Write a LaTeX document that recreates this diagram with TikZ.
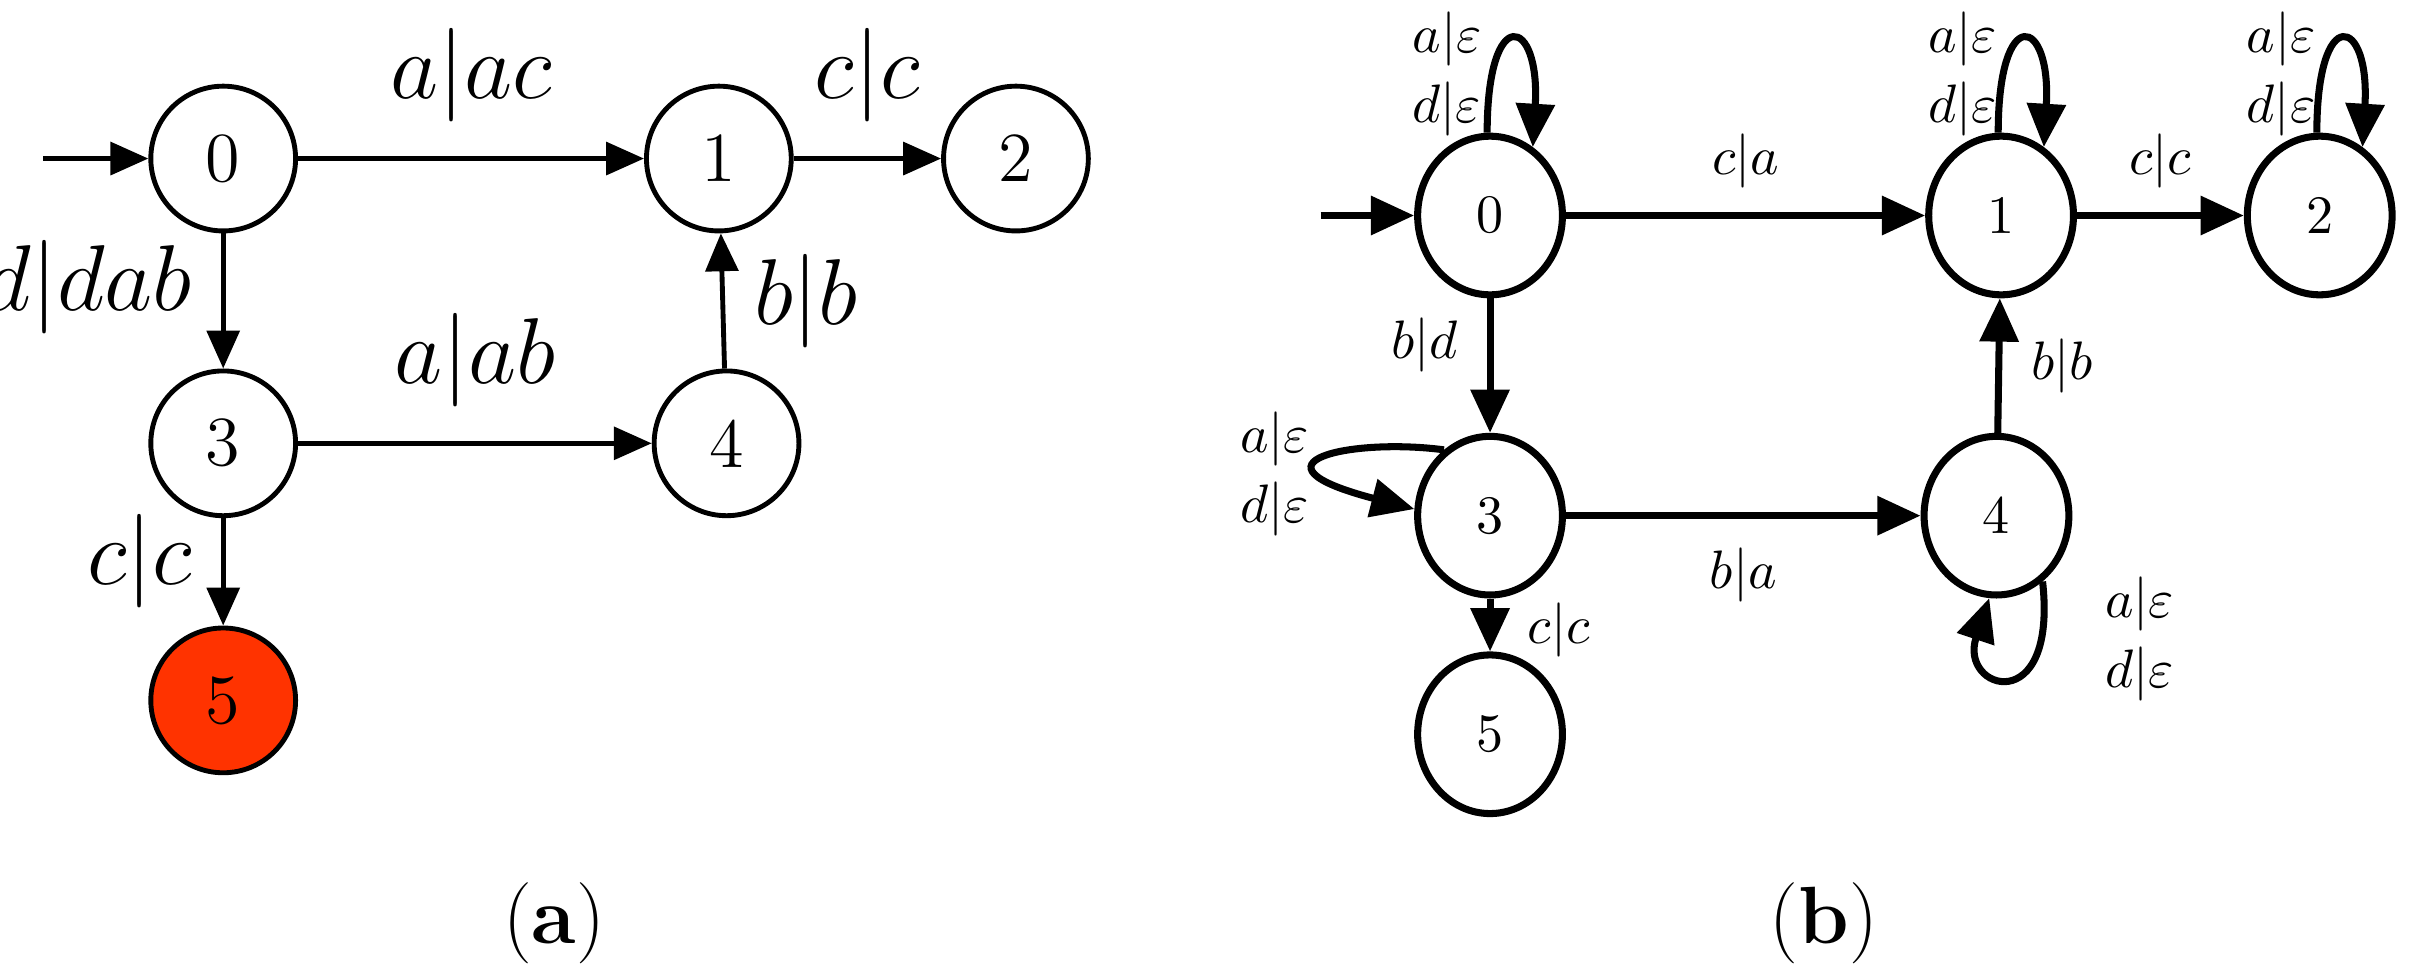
\documentclass[tikz,border=0pt]{standalone}
\usetikzlibrary{arrows.meta,shapes.geometric}
\begin{document}
\begin{tikzpicture}[x=1cm,y=-1cm,
  sa/.style={circle,draw,line width=0.9pt,minimum size=0.94cm,inner sep=0pt,font=\fontsize{13}{15}\selectfont},
  sb/.style={ellipse,draw,line width=1.3pt,minimum width=0.94cm,minimum height=1.03cm,inner sep=0pt,font=\fontsize{10}{12}\selectfont},
  ea/.style={line width=0.9pt,-{Triangle[length=7pt,width=6pt]}},
  eb/.style={line width=1.3pt,-{Triangle[length=8pt,width=7pt]}},
  la/.style={font=\fontsize{16}{18}\selectfont},
  lb/.style={font=\fontsize{10}{12}\selectfont},
  lbl/.style={lb,align=left,inner sep=0pt}]
\useasboundingbox (0,0) rectangle (15.68,6.32);
% (a)
\begin{scope}[x=0.01cm,y=-0.01cm]
\node[sa] (a0) at (145,103) {0};
\node[sa] (a1) at (467,103) {1};
\node[sa] (a2) at (660,103) {2};
\node[sa] (a3) at (145,288) {3};
\node[sa] (a4) at (472,288) {4};
\node[sa,fill={rgb,255:red,255;green,51;blue,0}] (a5) at (145,455) {5};
\coordinate (ai) at (28,103);
\draw[ea] (ai) -- (a0);
\draw[ea] (a0) -- node[la,above=3pt]{$a|ac$} (a1);
\draw[ea] (a1) -- node[la,above=3pt]{$c|c$} (a2);
\draw[ea] (a0) -- node[la,left=2pt,pos=0.4]{$d|dab$} (a3);
\draw[ea] (a3) -- node[la,above=3pt]{$a|ab$} (a4);
\draw[ea] (a4) -- node[la,right=2pt]{$b|b$} (a1);
\draw[ea] (a3) -- node[la,left=2pt,pos=0.4]{$c|c$} (a5);
\node[font=\fontsize{15}{17}\selectfont] (capa) at (360,600) {(\textbf{a})};
% (b)
\node[sb] (b0) at (968,140) {0};
\node[sb] (b1) at (1300,140) {1};
\node[sb] (b2) at (1507,140) {2};
\node[sb] (b3) at (968,335) {3};
\node[sb] (b4) at (1297,335) {4};
\node[sb] (b5) at (968,477) {5};
\coordinate (bi) at (858,140);
\draw[eb] (bi) -- (b0);
\draw[eb] (b0) -- node[lb,above=1pt]{$c|a$} (b1);
\draw[eb] (b1) -- node[lb,above=1pt]{$c|c$} (b2);
\draw[eb] (b0) -- node[lb,left=2pt,pos=0.35]{$b|d$} (b3);
\draw[eb] (b3) -- node[lb,below=2pt,pos=0.5]{$b|a$} (b4);
\draw[eb] (b4) -- node[lb,right=2pt]{$b|b$} (b1);
\draw[eb] (b3) -- node[lb,right=3pt,pos=0.6]{$c|c$} (b5);
\foreach \n in {b0,b1,b2}{
  \draw[eb] (\n.92) .. controls +(0,-85) and +(5,-85) .. (\n.58);
}
\node[lbl] at (940,48) {$a|\varepsilon$\\[1pt]$d|\varepsilon$};
\node[lbl] at (1275,48) {$a|\varepsilon$\\[1pt]$d|\varepsilon$};
\node[lbl] at (1482,48) {$a|\varepsilon$\\[1pt]$d|\varepsilon$};
\draw[eb] (b3.125) .. controls +(-60,-8) and +(-115,-30) .. (b3.175);
\node[lbl] at (828,308) {$a|\varepsilon$\\[1pt]$d|\varepsilon$};
\draw[eb] (b4.-55) .. controls +(10,90) and +(-20,60) .. (b4.-95);
\node[lbl] at (1390,415) {$a|\varepsilon$\\[1pt]$d|\varepsilon$};
\node[font=\fontsize{15}{17}\selectfont] (capb) at (1185,600) {(\textbf{b})};
\end{scope}
\end{tikzpicture}
\end{document}
